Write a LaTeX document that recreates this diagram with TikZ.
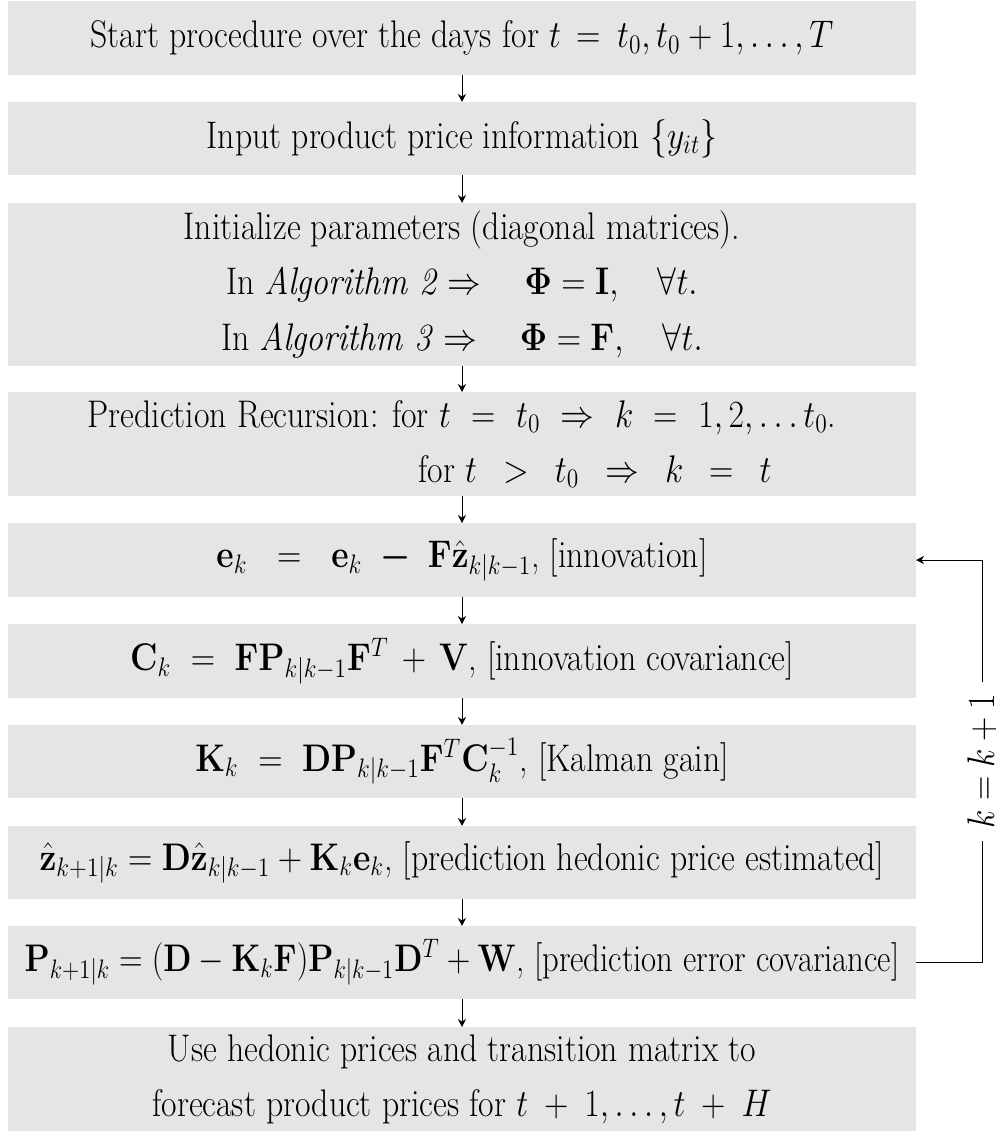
\documentclass[tikz,border=0pt]{standalone}
\usepackage{amsmath}
\usepackage{graphicx}
\usetikzlibrary{arrows.meta}
\definecolor{boxgray}{HTML}{E5E5E5}
% narrow set for every line of text
\newcommand{\nar}[1]{\scalebox{0.877}[1]{#1}}
\begin{document}
\begin{tikzpicture}[x=0.449pt,y=-0.449pt,
  font=\fontsize{17.28}{24.7}\selectfont,
  stepbox/.style={fill=boxgray, minimum width=407.7pt, inner sep=0pt, outer sep=0pt, align=center, anchor=center},
  flow/.style={line width=0.45pt, -{Stealth[length=3.6pt,width=3.6pt]}},
]
\useasboundingbox (0,0) rectangle (996,1131);

\node[stepbox, minimum height=33.2pt] (b1) at (462,38)
  {\nar{Start procedure over the days for $t$ \,= \,$t_0, t_0+1, \ldots, T$}};
\node[stepbox, minimum height=32.8pt] (b2) at (462,138.5)
  {\nar{Input product price information $\{y_{it}\}$}};
\node[stepbox, minimum height=73.2pt] (b3) at (462,284.5)
  {\nar{Initialize parameters (diagonal matrices).}\\
   \nar{In \textit{Algorithm 2} $\Rightarrow \quad \mathbf{\Phi} = \mathbf{I}, \quad \forall t.$}\\
   \nar{In \textit{Algorithm 3} $\Rightarrow \quad \mathbf{\Phi} = \mathbf{F}, \quad \forall t.$}};
\node[stepbox, minimum height=46.7pt] (b4) at (462,444)
  {\nar{Prediction Recursion: for $t$ \ = \ $t_0$ \ $\Rightarrow$ \ $k$ \ = \ $1, 2, \ldots t_0$.}\\
   \hspace*{119.4pt}\nar{for $t$ \ \,$>$ \ \,$t_0$ \ \,$\Rightarrow$ \ \,$k$ \ \,= \ \,$t$}};
\node[stepbox, minimum height=33.2pt] (b5) at (462,560)
  {\nar{$\mathbf{e}_k \ \ = \ \ \mathbf{e}_k \ \boldsymbol{-} \ \mathbf{F}\hat{\mathbf{z}}_{k|k-1}$, [innovation]}};
\node[stepbox, minimum height=33.2pt] (b6) at (462,661)
  {\nar{$\mathbf{C}_k \ = \ \mathbf{F}\mathbf{P}_{k|k-1}\mathbf{F}^T \,+\, \mathbf{V}$, [innovation covariance]}};
\node[stepbox, minimum height=32.8pt] (b7) at (462,761.5)
  {\nar{$\mathbf{K}_k \ = \ \mathbf{D}\mathbf{P}_{k|k-1}\mathbf{F}^T\mathbf{C}_k^{-1}$, [Kalman gain]}};
\node[stepbox, minimum height=32.8pt] (b8) at (462,862.5)
  {\nar{$\hat{\mathbf{z}}_{k+1|k} = \mathbf{D}\hat{\mathbf{z}}_{k|k-1} + \mathbf{K}_k\mathbf{e}_k$, [prediction hedonic price estimated]}};
\node[stepbox, minimum height=32.8pt] (b9) at (462,962.5)
  {\scalebox{0.85}[1]{$\mathbf{P}_{k+1|k} = (\mathbf{D} - \mathbf{K}_k\mathbf{F})\mathbf{P}_{k|k-1}\mathbf{D}^T + \mathbf{W}$, [prediction error covariance]}};
\node[stepbox, minimum height=46.7pt] (b10) at (462,1079)
  {\nar{Use hedonic prices and transition matrix to}\\
   \nar{forecast product prices for $t$ \,+ \,$1, \ldots, t$ \,+ \,$H$}};

% straight flow between consecutive steps
\foreach \a/\b in {b1/b2, b2/b3, b3/b4, b4/b5, b5/b6, b6/b7, b7/b8, b8/b9, b9/b10}
  \draw[flow] (\a) -- (\b);

% feedback loop k = k+1
\coordinate (c1) at (982,962.5);
\coordinate (c2) at (982,560);
\draw[flow] (b9.east) -- (c1)
  -- node[fill=white, rotate=90, inner xsep=5.4pt, inner ysep=2pt] {\nar{$k = k + 1$}} (c2)
  -- (b5.east);
\end{tikzpicture}
\end{document}
